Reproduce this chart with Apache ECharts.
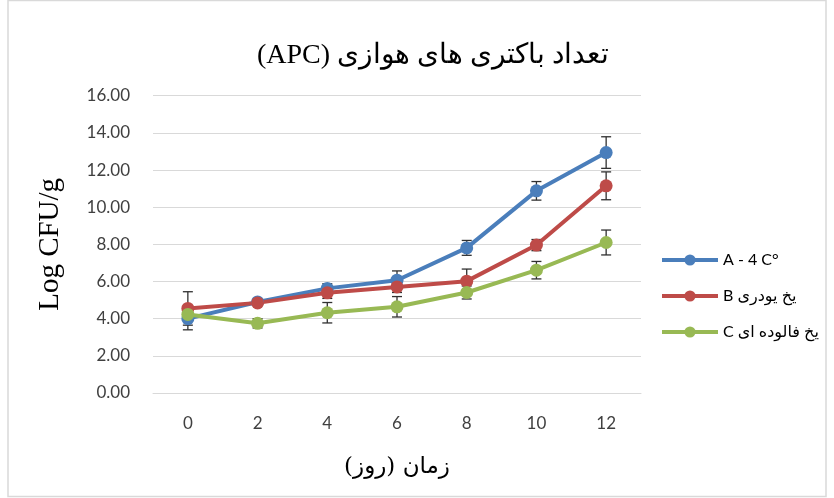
<!DOCTYPE html>
<html><head><meta charset="utf-8">
<script src="https://cdn.jsdelivr.net/npm/echarts@6/dist/echarts.min.js"></script>
<style>html,body{margin:0;padding:0;background:#fff}#c{width:834px;height:498px}</style>
</head><body><div id="c"></div>
<script>
const days = ['0', '2', '4', '6', '8', '10', '12'];
const seriesNames = ['A - 4 C°', 'B یخ یودری', 'C یخ فالوده ای'];
const valuesA = [4.0, 4.9, 5.63, 6.07, 7.81, 10.88, 12.94];
const valuesB = [4.55, 4.85, 5.39, 5.71, 6.02, 7.96, 11.15];
const valuesC = [4.23, 3.75, 4.32, 4.64, 5.41, 6.61, 8.10];
const errorsA = [0.6, 0.1, 0.25, 0.5, 0.4, 0.5, 0.85];
const errorsB = [0.9, 0.15, 0.3, 0.3, 0.65, 0.3, 0.75];
const errorsC = [0.3, 0.25, 0.55, 0.55, 0.35, 0.47, 0.67];
const yTicks = { min: 0, max: 16, interval: 2 };

const colors = ['#4a7ebb', '#be4b48', '#98b954'];
const allValues = [valuesA, valuesB, valuesC];
const allErrors = [errorsA, errorsB, errorsC];

function errSeries(vals, errs) {
  return {
    type: 'custom', z: 1, silent: true,
    data: vals.map((v, i) => [i, v, errs[i]]),
    renderItem: function (params, api) {
      const i = api.value(0), v = api.value(1), e = api.value(2);
      const top = api.coord([i, v + e]);
      const bot = api.coord([i, v - e]);
      const hw = 5;
      const st = { stroke: '#303030', lineWidth: 1.3 };
      return { type: 'group', children: [
        { type: 'line', shape: { x1: top[0], y1: top[1], x2: bot[0], y2: bot[1] }, style: st },
        { type: 'line', shape: { x1: top[0] - hw, y1: top[1], x2: top[0] + hw, y2: top[1] }, style: st },
        { type: 'line', shape: { x1: bot[0] - hw, y1: bot[1], x2: bot[0] + hw, y2: bot[1] }, style: st }
      ]};
    }
  };
}

const series = [];
allValues.forEach((vals, k) => {
  series.push({
    name: seriesNames[k], type: 'line', data: vals, z: 3,
    symbol: 'circle', symbolSize: 13,
    lineStyle: { width: 4, color: colors[k] },
    itemStyle: { color: colors[k] }
  });
});
allValues.forEach((vals, k) => series.push(errSeries(vals, allErrors[k])));

const chart = echarts.init(document.getElementById('c'), null, { renderer: 'canvas' });
chart.setOption({
  animation: false,
  backgroundColor: '#fff',
  title: {
    text: '(APC) تعداد باکتری های هوازی',
    left: 428, top: 37, textAlign: 'center',
    textStyle: { fontFamily: '"Liberation Serif", "DejaVu Serif", serif', fontSize: 28, fontWeight: 'normal', color: '#000' }
  },
  grid: { left: 153, right: 193, top: 95.7, bottom: 105, containLabel: false },
  legend: {
    orient: 'vertical', left: 655, top: 247, itemWidth: 56, itemHeight: 14, itemGap: 20,
    data: seriesNames,
    lineStyle: { width: 4 },
    textStyle: { fontFamily: 'Lato, "DejaVu Sans", sans-serif', fontSize: 16, color: '#000' }
  },
  xAxis: {
    type: 'category', data: days, boundaryGap: true,
    axisLine: { show: true, lineStyle: { color: '#d9d9d9' } },
    axisTick: { show: false },
    axisLabel: { margin: 22, fontFamily: 'Lato, "Open Sans", sans-serif', fontSize: 17, color: '#404040' },
    name: 'زمان (روز)', nameLocation: 'middle', nameGap: 63,
    nameTextStyle: { fontFamily: '"DejaVu Serif", "DejaVu Sans", serif', fontSize: 23, color: '#000' }
  },
  yAxis: {
    type: 'value', min: yTicks.min, max: yTicks.max, interval: yTicks.interval,
    axisLine: { show: false }, axisTick: { show: false },
    splitLine: { lineStyle: { color: '#d9d9d9', width: 1 } },
    axisLabel: { margin: 23, formatter: v => v.toFixed(2), fontFamily: 'Lato, "Open Sans", sans-serif', fontSize: 17, color: '#404040' },
    name: 'Log CFU/g', nameLocation: 'middle', nameGap: 88, nameRotate: 90,
    nameTextStyle: { fontFamily: '"Liberation Serif", serif', fontSize: 29, color: '#000' }
  },
  graphic: [{
    type: 'rect', shape: { x: 8, y: 0.5, width: 818, height: 496 },
    style: { fill: 'none', stroke: '#d9d9d9', lineWidth: 1.5 }, silent: true, z: -1
  }],
  series: series
});
</script></body></html>
